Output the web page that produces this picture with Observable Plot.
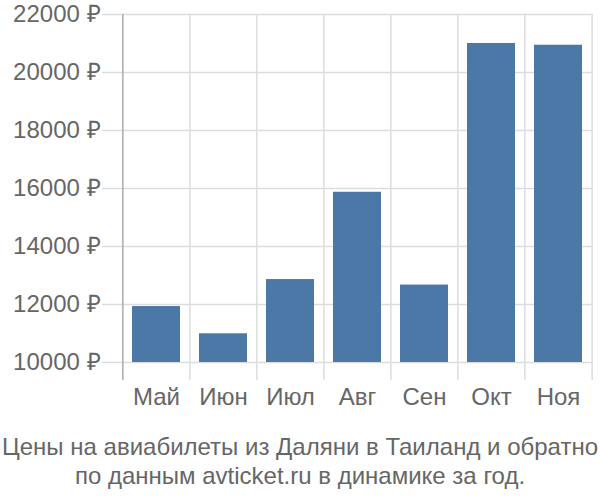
<!DOCTYPE html>
<html>
<head>
<meta charset="utf-8">
<script src="https://cdn.jsdelivr.net/npm/d3@7"></script>
<script src="https://cdn.jsdelivr.net/npm/@observablehq/plot@0.6"></script>
<style>
  body { margin: 0; background: #fff; font-family: "Liberation Sans", Arial, sans-serif; }
  #caption { width: 600px; text-align: center; color: #666; font-size: 24px; line-height: 29px; padding-top: 12px; white-space: nowrap; }
</style>
</head>
<body>
<div id="chart"></div>
<div id="caption">Цены на авиабилеты из Даляни в Таиланд и обратно<br>по данным avticket.ru в динамике за год.</div>
<script>
const months = ["Май", "Июн", "Июл", "Авг", "Сен", "Окт", "Ноя"];
const prices = [11930, 10990, 12860, 15870, 12670, 21000, 20940];
const yTicks = [10000, 12000, 14000, 16000, 18000, 20000, 22000];
const baseValue = 10000;

const data = months.map((m, i) => ({month: m, price: prices[i]}));

const W = 600, H = 420, mL = 122, mR = 7, mT = 14, mB = 40;
const step = (W - mL - mR) / months.length;

const chart = Plot.plot({
  width: W,
  height: H,
  marginLeft: mL,
  marginRight: mR,
  marginTop: mT,
  marginBottom: mB,
  style: {fontSize: "24px", fontFamily: "'Liberation Sans', Arial, sans-serif", color: "#666", background: "#fff", overflow: "visible"},
  x: {domain: months, paddingInner: 0.28, paddingOuter: 0.14, label: null},
  y: {domain: [9379, 22000], label: null},
  marks: [
    Plot.ruleY(yTicks, {y: d => d, stroke: "#ddd", strokeWidth: 1.5}),
    Plot.ruleX(months, {x: d => d, dx: -step / 2, stroke: d => d === months[0] ? "#aaa" : "#ddd", strokeWidth: 1.5}),
    Plot.ruleX([months[months.length - 1]], {x: d => d, dx: step / 2, stroke: "#ddd", strokeWidth: 1.5}),
    Plot.axisY(yTicks, {tickSize: 20, stroke: "#ddd", strokeWidth: 1.5, tickFormat: () => ""}),
    Plot.axisY(yTicks, {tickSize: 0, tickPadding: 22, tickFormat: d => d + " ₽", fill: "#666"}),
    Plot.axisX({tickSize: 0, tickPadding: 7, fill: "#666"}),
    Plot.rectY(data, {x: "month", y1: baseValue, y2: "price", fill: "#4c78a8"})
  ]
});
document.getElementById("chart").append(chart);
</script>
</body>
</html>
